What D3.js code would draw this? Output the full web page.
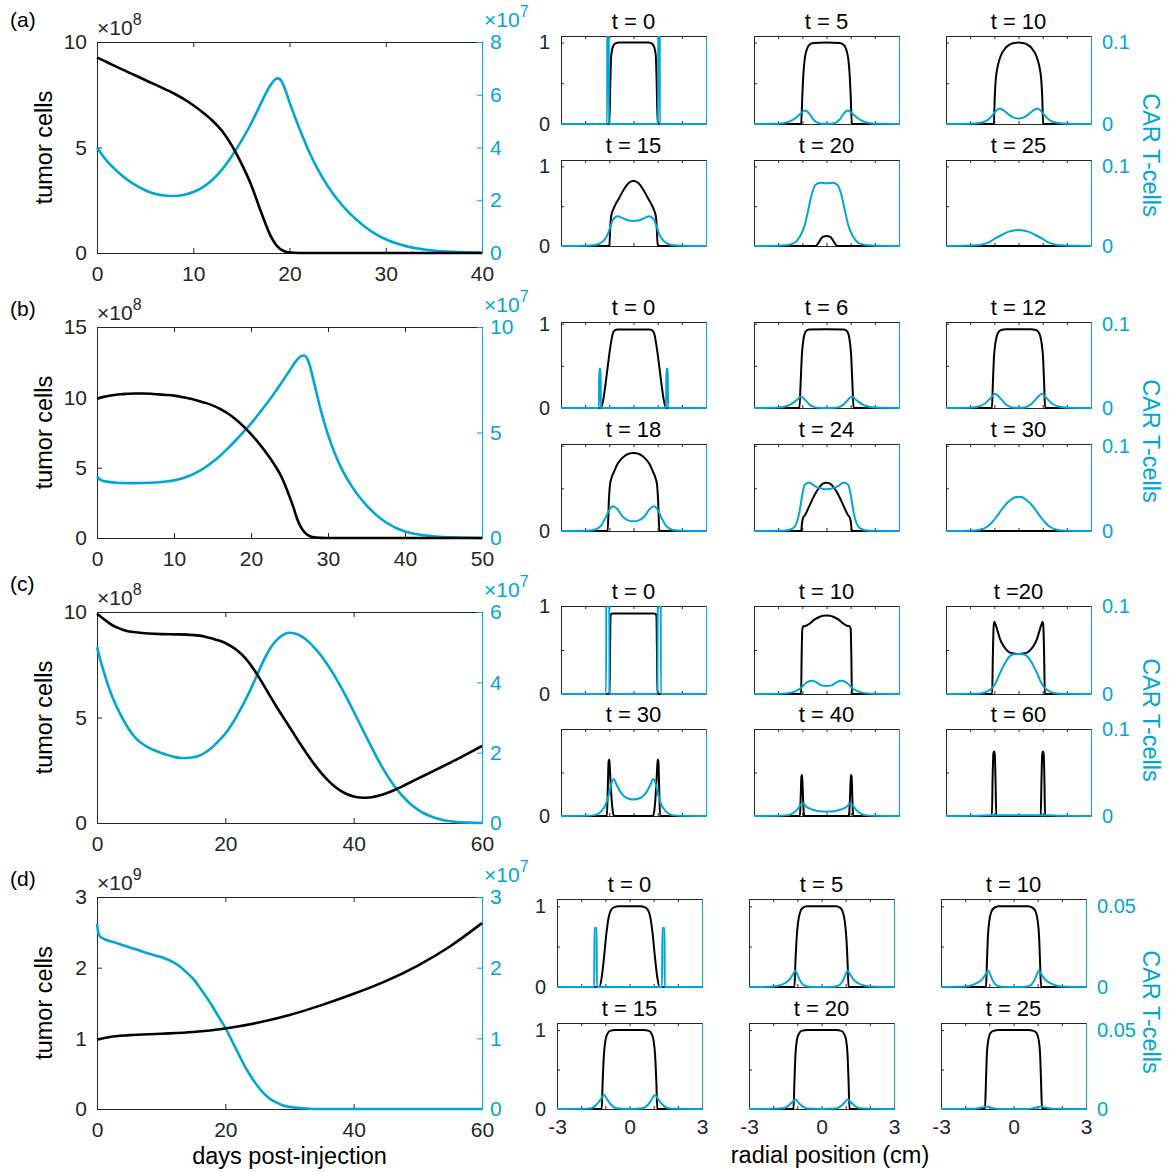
<!DOCTYPE html>
<html><head><meta charset="utf-8">
<script src="https://cdn.jsdelivr.net/npm/d3@7"></script>
<style>body{margin:0;background:#fff}svg{display:block}</style>
</head><body><svg id="c" width="1176" height="1172"></svg>
<script>
// ---------------- main time-course data ----------------
const xTicksA=[0,10,20,30,40], xTicksB=[0,10,20,30,40,50], xTicksC=[0,20,40,60], xTicksD=[0,20,40,60];
const yTicksLA=[0,5,10], yTicksLB=[0,5,10,15], yTicksLC=[0,5,10], yTicksLD=[0,1,2,3];
const yTicksRA=[0,2,4,6,8], yTicksRB=[0,5,10], yTicksRC=[0,2,4,6], yTicksRD=[0,1,2,3];

const tumorA=[[0,9.26],[1,9.05],[2,8.83],[3,8.62],[4,8.41],[5,8.2],[6,7.99],[7,7.78],[8,7.56],[9,7.3],[10,7.0],[11,6.66],[12,6.27],[13,5.78],[14,5.1],[15,4.25],[16,3.25],[17,2.0],[18,0.85],[18.5,0.45],[19,0.2],[19.5,0.07],[20,0.02],[21,0],[40,0]];
const carA=[[0,4.0],[1,3.5],[2,3.13],[3,2.82],[4,2.57],[5,2.38],[6,2.25],[7,2.18],[8,2.16],[9,2.2],[10,2.31],[11,2.5],[12,2.78],[13,3.17],[14,3.67],[15,4.25],[16,4.9],[17,5.65],[18,6.35],[18.5,6.58],[18.8,6.62],[19.2,6.5],[19.6,6.15],[20,5.72],[21,4.75],[22,3.87],[23,3.13],[24,2.52],[25,2.02],[26,1.6],[27,1.25],[28,0.95],[29,0.71],[30,0.52],[32,0.27],[34,0.13],[36,0.06],[38,0.03],[40,0.01]];

const tumorB=[[0,9.9],[1,10.05],[2,10.15],[3,10.22],[4,10.25],[5,10.27],[6,10.27],[7,10.25],[8,10.21],[9,10.17],[10,10.12],[11,10.03],[12,9.92],[13,9.78],[14,9.62],[15,9.43],[16,9.17],[17,8.85],[18,8.45],[19,7.95],[20,7.38],[21,6.75],[22,6.05],[23,5.25],[24,4.3],[25,2.95],[25.5,2.2],[26,1.35],[26.5,0.75],[27,0.38],[27.5,0.17],[28,0.07],[29,0.01],[30,0],[50,0]];
const carB=[[0,2.92],[0.3,2.8],[0.7,2.72],[1.5,2.66],[3,2.61],[5,2.6],[7,2.62],[9,2.68],[10,2.73],[11,2.82],[12,2.95],[13,3.12],[14,3.33],[15,3.6],[16,3.9],[17,4.25],[18,4.62],[19,5.02],[20,5.42],[21,5.88],[22,6.35],[23,6.85],[24,7.38],[25,7.93],[26,8.45],[26.5,8.62],[26.9,8.65],[27.3,8.5],[27.7,8.1],[28,7.65],[28.5,6.9],[29,6.15],[30,4.9],[31,3.9],[32,3.12],[33,2.5],[34,1.98],[35,1.55],[36,1.18],[37,0.88],[38,0.64],[39,0.45],[40,0.31],[42,0.15],[44,0.07],[46,0.03],[48,0.01],[50,0.0]];

const tumorC=[[0,9.92],[1,9.68],[2,9.45],[3,9.28],[4,9.16],[5,9.08],[6,9.04],[8,8.98],[10,8.95],[12,8.94],[14,8.93],[16,8.88],[17,8.82],[18,8.74],[19,8.65],[20,8.53],[21,8.36],[22,8.14],[23,7.85],[24,7.47],[25,7.02],[26,6.52],[27,6.0],[28,5.5],[29,5.02],[30,4.55],[31,4.07],[32,3.6],[33,3.15],[34,2.73],[35,2.35],[36,2.02],[37,1.74],[38,1.52],[39,1.36],[40,1.26],[41,1.21],[42,1.2],[43,1.23],[44,1.3],[45,1.4],[46,1.52],[47,1.65],[48,1.8],[50,2.1],[52,2.4],[54,2.7],[56,3.0],[58,3.32],[60,3.65]];
const carC=[[0,5.0],[0.5,4.65],[1,4.34],[1.5,4.04],[2,3.77],[3,3.33],[4,2.97],[5,2.66],[6,2.42],[7,2.26],[8,2.15],[9,2.06],[10,1.99],[11,1.93],[12,1.88],[13,1.85],[14,1.85],[15,1.87],[16,1.92],[17,2.02],[18,2.16],[19,2.34],[20,2.54],[21,2.8],[22,3.11],[23,3.45],[24,3.82],[25,4.23],[26,4.63],[27,4.97],[28,5.2],[29,5.35],[30,5.41],[31,5.38],[32,5.29],[33,5.15],[34,4.96],[35,4.74],[36,4.48],[37,4.19],[38,3.87],[39,3.53],[40,3.17],[41,2.8],[42,2.44],[43,2.08],[44,1.73],[45,1.42],[46,1.14],[47,0.9],[48,0.69],[49,0.52],[50,0.38],[51,0.27],[52,0.19],[53,0.13],[54,0.08],[55,0.05],[56,0.03],[58,0.01],[60,0.0]];

const tumorD=[[0,0.98],[2,1.02],[5,1.045],[10,1.065],[15,1.09],[20,1.14],[25,1.22],[30,1.33],[35,1.47],[40,1.63],[45,1.81],[50,2.03],[55,2.3],[60,2.63]];
const carD=[[0,2.62],[0.15,2.52],[0.4,2.45],[1,2.41],[3,2.35],[5,2.29],[8,2.2],[10,2.15],[12,2.07],[13,2.01],[14,1.93],[15,1.84],[16,1.72],[17,1.59],[18,1.45],[19,1.3],[20,1.15],[21,0.97],[22,0.79],[23,0.61],[24,0.46],[25,0.33],[26,0.22],[27,0.14],[28,0.09],[29,0.05],[30,0.03],[32,0.01],[34,0.0],[60,0.0]];

// ---------------- spatial profiles (radial position, value) ----------------
const titlesA=["t = 0","t = 5","t = 10","t = 15","t = 20","t = 25"];
const titlesB=["t = 0","t = 6","t = 12","t = 18","t = 24","t = 30"];
const titlesC=["t = 0","t = 10","t =20","t = 30","t = 40","t = 60"];
const titlesD=["t = 0","t = 5","t = 10","t = 15","t = 20","t = 25"];

const tumorProfA=[
[[-3,0],[-1.0,0],[-0.96,0.5],[-0.92,0.85],[-0.85,0.95],[-0.75,0.99],[-0.6,1.0],[0.6,1.0],[0.75,0.99],[0.85,0.95],[0.92,0.85],[0.96,0.5],[1.0,0],[3,0]],
[[-3,0],[-1.05,0],[-1.0,0.35],[-0.96,0.6],[-0.9,0.8],[-0.82,0.91],[-0.72,0.97],[-0.55,0.995],[0,1.0],[0.55,0.995],[0.72,0.97],[0.82,0.91],[0.9,0.8],[0.96,0.6],[1.0,0.35],[1.05,0],[3,0]],
[[-3,0],[-1.02,0],[-0.98,0.35],[-0.94,0.55],[-0.88,0.68],[-0.8,0.78],[-0.7,0.86],[-0.55,0.93],[-0.37,0.975],[-0.18,0.995],[0,1.0],[0.18,0.995],[0.37,0.975],[0.55,0.93],[0.7,0.86],[0.8,0.78],[0.88,0.68],[0.94,0.55],[0.98,0.35],[1.02,0],[3,0]],
[[-3,0],[-1.0,0],[-0.96,0.25],[-0.92,0.38],[-0.85,0.45],[-0.75,0.52],[-0.6,0.6],[-0.4,0.71],[-0.2,0.79],[0,0.82],[0.2,0.79],[0.4,0.71],[0.6,0.6],[0.75,0.52],[0.85,0.45],[0.92,0.38],[0.96,0.25],[1.0,0],[3,0]],
[[-3,0],[-0.45,0],[-0.35,0.03],[-0.25,0.08],[-0.15,0.115],[0,0.125],[0.15,0.115],[0.25,0.08],[0.35,0.03],[0.45,0],[3,0]],
[[-3,0],[3,0]]];
const carProfA=[
[[-3,0],[-1.09,0],[-1.08,0.3],[-1.03,0.3],[-1.02,0],[1.02,0],[1.03,0.3],[1.08,0.3],[1.09,0],[3,0]],
[[-3,0],[-2.2,0.0002],[-1.8,0.001],[-1.5,0.0035],[-1.25,0.008],[-1.05,0.0135],[-0.88,0.0165],[-0.72,0.013],[-0.56,0.006],[-0.4,0.002],[-0.2,0.0004],[0,0.0002],[0.2,0.0004],[0.4,0.002],[0.56,0.006],[0.72,0.013],[0.88,0.0165],[1.05,0.0135],[1.25,0.008],[1.5,0.0035],[1.8,0.001],[2.2,0.0002],[3,0]],
[[-3,0],[-2.0,0.0003],[-1.6,0.0015],[-1.3,0.0045],[-1.1,0.01],[-0.95,0.0155],[-0.78,0.019],[-0.6,0.0165],[-0.4,0.0115],[-0.2,0.0078],[0,0.0068],[0.2,0.0078],[0.4,0.0115],[0.6,0.0165],[0.78,0.019],[0.95,0.0155],[1.1,0.01],[1.3,0.0045],[1.6,0.0015],[2.0,0.0003],[3,0]],
[[-3,0],[-2.0,0.0003],[-1.6,0.0012],[-1.4,0.003],[-1.2,0.008],[-1.05,0.016],[-0.95,0.025],[-0.85,0.033],[-0.65,0.0375],[-0.45,0.035],[-0.2,0.032],[0,0.0315],[0.2,0.032],[0.45,0.035],[0.65,0.0375],[0.85,0.033],[0.95,0.025],[1.05,0.016],[1.2,0.008],[1.4,0.003],[1.6,0.0012],[2.0,0.0003],[3,0]],
[[-3,0],[-2.0,0.0002],[-1.75,0.0008],[-1.5,0.002],[-1.3,0.0045],[-1.1,0.012],[-0.9,0.026],[-0.75,0.046],[-0.6,0.066],[-0.45,0.077],[-0.25,0.0795],[0,0.0785],[0.25,0.0795],[0.45,0.077],[0.6,0.066],[0.75,0.046],[0.9,0.026],[1.1,0.012],[1.3,0.0045],[1.5,0.002],[1.75,0.0008],[2.0,0.0002],[3,0]],
[[-3,0],[-2.2,0.0002],[-1.8,0.0008],[-1.5,0.002],[-1.25,0.0042],[-1.0,0.009],[-0.72,0.0135],[-0.4,0.018],[-0.2,0.0195],[0,0.02],[0.2,0.0195],[0.4,0.018],[0.72,0.0135],[1.0,0.009],[1.25,0.0042],[1.5,0.002],[1.8,0.0008],[2.2,0.0002],[3,0]]];

const tumorProfB=[
[[-3,0],[-1.35,0],[-1.25,0.1],[-1.15,0.3],[-1.05,0.53],[-0.95,0.74],[-0.87,0.87],[-0.78,0.92],[-0.65,0.93],[0.65,0.93],[0.78,0.92],[0.87,0.87],[0.95,0.74],[1.05,0.53],[1.15,0.3],[1.25,0.1],[1.35,0],[3,0]],
[[-3,0],[-1.12,0],[-1.07,0.3],[-1.02,0.62],[-0.95,0.82],[-0.85,0.91],[-0.72,0.93],[0,0.935],[0.72,0.93],[0.85,0.91],[0.95,0.82],[1.02,0.62],[1.07,0.3],[1.12,0],[3,0]],
[[-3,0],[-1.1,0],[-1.06,0.3],[-1.02,0.58],[-0.95,0.78],[-0.85,0.89],[-0.72,0.925],[-0.5,0.935],[0.5,0.935],[0.72,0.925],[0.85,0.89],[0.95,0.78],[1.02,0.58],[1.06,0.3],[1.1,0],[3,0]],
[[-3,0],[-1.07,0],[-1.02,0.35],[-0.97,0.55],[-0.9,0.63],[-0.8,0.7],[-0.65,0.79],[-0.45,0.86],[-0.25,0.9],[0,0.915],[0.25,0.9],[0.45,0.86],[0.65,0.79],[0.8,0.7],[0.9,0.63],[0.97,0.55],[1.02,0.35],[1.07,0],[3,0]],
[[-3,0],[-1.05,0],[-1.01,0.1],[-0.96,0.16],[-0.88,0.19],[-0.78,0.25],[-0.65,0.33],[-0.5,0.42],[-0.3,0.51],[-0.15,0.555],[0,0.567],[0.15,0.555],[0.3,0.51],[0.5,0.42],[0.65,0.33],[0.78,0.25],[0.88,0.19],[0.96,0.16],[1.01,0.1],[1.05,0],[3,0]],
[[-3,0],[3,0]]];
const carProfB=[
[[-3,0],[-1.43,0],[-1.42,0.0465],[-1.36,0.0465],[-1.35,0],[1.35,0],[1.36,0.0465],[1.42,0.0465],[1.43,0],[3,0]],
[[-3,0],[-2.2,0.0002],[-1.8,0.0012],[-1.5,0.004],[-1.25,0.009],[-1.05,0.0133],[-0.88,0.0095],[-0.7,0.004],[-0.5,0.001],[-0.3,0.0002],[0,0],[0.3,0.0002],[0.5,0.001],[0.7,0.004],[0.88,0.0095],[1.05,0.0133],[1.25,0.009],[1.5,0.004],[1.8,0.0012],[2.2,0.0002],[3,0]],
[[-3,0],[-2.1,0.0003],[-1.7,0.0015],[-1.4,0.005],[-1.15,0.012],[-0.97,0.0168],[-0.78,0.0125],[-0.55,0.005],[-0.3,0.001],[0,0.0003],[0.3,0.001],[0.55,0.005],[0.78,0.0125],[0.97,0.0168],[1.15,0.012],[1.4,0.005],[1.7,0.0015],[2.1,0.0003],[3,0]],
[[-3,0],[-2.0,0.0002],[-1.6,0.0015],[-1.35,0.006],[-1.15,0.016],[-1.0,0.025],[-0.85,0.029],[-0.68,0.026],[-0.45,0.017],[-0.22,0.0125],[0,0.0114],[0.22,0.0125],[0.45,0.017],[0.68,0.026],[0.85,0.029],[1.0,0.025],[1.15,0.016],[1.35,0.006],[1.6,0.0015],[2.0,0.0002],[3,0]],
[[-3,0],[-2.0,0.0002],[-1.6,0.001],[-1.4,0.003],[-1.25,0.0085],[-1.12,0.022],[-1.0,0.043],[-0.9,0.054],[-0.72,0.057],[-0.5,0.053],[-0.25,0.05],[0,0.049],[0.25,0.05],[0.5,0.053],[0.72,0.057],[0.9,0.054],[1.0,0.043],[1.12,0.022],[1.25,0.0085],[1.4,0.003],[1.6,0.001],[2.0,0.0002],[3,0]],
[[-3,0],[-2.0,0.0003],[-1.6,0.0015],[-1.3,0.005],[-1.1,0.01],[-0.9,0.017],[-0.7,0.025],[-0.5,0.032],[-0.3,0.037],[-0.15,0.0395],[0,0.0402],[0.15,0.0395],[0.3,0.037],[0.5,0.032],[0.7,0.025],[0.9,0.017],[1.1,0.01],[1.3,0.005],[1.6,0.0015],[2.0,0.0003],[3,0]]];

const tumorProfC=[
[[-3,0],[-0.99,0],[-0.97,0.5],[-0.95,0.88],[-0.92,0.91],[-0.85,0.915],[0.85,0.915],[0.92,0.91],[0.95,0.88],[0.97,0.5],[0.99,0],[3,0]],
[[-3,0],[-1.05,0],[-1.03,0.4],[-1.0,0.74],[-0.95,0.77],[-0.85,0.775],[-0.7,0.8],[-0.5,0.845],[-0.3,0.875],[-0.15,0.89],[0,0.893],[0.15,0.89],[0.3,0.875],[0.5,0.845],[0.7,0.8],[0.85,0.775],[0.95,0.77],[1.0,0.74],[1.03,0.4],[1.05,0],[3,0]],
[[-3,0],[-1.09,0],[-1.06,0.45],[-1.03,0.76],[-1.0,0.82],[-0.95,0.79],[-0.87,0.72],[-0.77,0.63],[-0.62,0.545],[-0.45,0.49],[-0.25,0.462],[0,0.455],[0.25,0.462],[0.45,0.49],[0.62,0.545],[0.77,0.63],[0.87,0.72],[0.95,0.79],[1.0,0.82],[1.03,0.76],[1.06,0.45],[1.09,0],[3,0]],
[[-3,0],[-1.1,0],[-1.06,0.35],[-1.03,0.63],[-1.0,0.65],[-0.97,0.5],[-0.92,0.25],[-0.86,0.06],[-0.8,0],[0.8,0],[0.86,0.06],[0.92,0.25],[0.97,0.5],[1.0,0.65],[1.03,0.63],[1.06,0.35],[1.1,0],[3,0]],
[[-3,0],[-1.1,0],[-1.07,0.2],[-1.04,0.45],[-1.02,0.47],[-1.0,0.42],[-0.97,0.2],[-0.94,0.03],[-0.92,0],[0.92,0],[0.94,0.03],[0.97,0.2],[1.0,0.42],[1.02,0.47],[1.04,0.45],[1.07,0.2],[1.1,0],[3,0]],
[[-3,0],[-1.1,0],[-1.07,0.45],[-1.04,0.72],[-1.01,0.74],[-0.98,0.7],[-0.95,0.4],[-0.92,0],[0.92,0],[0.95,0.4],[0.98,0.7],[1.01,0.74],[1.04,0.72],[1.07,0.45],[1.1,0],[3,0]]];
const carProfC=[
[[-3,0],[-1.13,0],[-1.12,0.3],[-1.01,0.3],[-1.0,0],[1.0,0],[1.01,0.3],[1.12,0.3],[1.13,0],[3,0]],
[[-3,0],[-2.0,0.0002],[-1.6,0.001],[-1.3,0.003],[-1.1,0.006],[-0.95,0.01],[-0.8,0.0135],[-0.6,0.015],[-0.4,0.013],[-0.2,0.0098],[0,0.0092],[0.2,0.0098],[0.4,0.013],[0.6,0.015],[0.8,0.0135],[0.95,0.01],[1.1,0.006],[1.3,0.003],[1.6,0.001],[2.0,0.0002],[3,0]],
[[-3,0],[-2.0,0.0002],[-1.6,0.0006],[-1.3,0.0027],[-1.05,0.008],[-0.9,0.015],[-0.77,0.0235],[-0.6,0.033],[-0.45,0.04],[-0.25,0.0448],[0,0.0455],[0.25,0.0448],[0.45,0.04],[0.6,0.033],[0.77,0.0235],[0.9,0.015],[1.05,0.008],[1.3,0.0027],[1.6,0.0006],[2.0,0.0002],[3,0]],
[[-3,0],[-2.0,0.0002],[-1.6,0.001],[-1.35,0.005],[-1.15,0.013],[-1.0,0.027],[-0.9,0.039],[-0.82,0.0425],[-0.7,0.036],[-0.55,0.028],[-0.3,0.021],[0,0.019],[0.3,0.021],[0.55,0.028],[0.7,0.036],[0.82,0.0425],[0.9,0.039],[1.0,0.027],[1.15,0.013],[1.35,0.005],[1.6,0.001],[2.0,0.0002],[3,0]],
[[-3,0],[-2.0,0.0002],[-1.6,0.001],[-1.4,0.003],[-1.2,0.008],[-1.05,0.0135],[-0.97,0.0145],[-0.85,0.011],[-0.6,0.0075],[-0.3,0.0055],[0,0.005],[0.3,0.0055],[0.6,0.0075],[0.85,0.011],[0.97,0.0145],[1.05,0.0135],[1.2,0.008],[1.4,0.003],[1.6,0.001],[2.0,0.0002],[3,0]],
[[-3,0],[-1.8,0.0002],[-1.2,0.0008],[-0.6,0.001],[0,0.001],[0.6,0.001],[1.2,0.0008],[1.8,0.0002],[3,0]]];

const tumorProfD=[
[[-3,0],[-1.25,0],[-1.15,0.12],[-1.05,0.38],[-0.95,0.68],[-0.85,0.88],[-0.75,0.96],[-0.62,0.99],[-0.45,1.0],[0.45,1.0],[0.62,0.99],[0.75,0.96],[0.85,0.88],[0.95,0.68],[1.05,0.38],[1.15,0.12],[1.25,0],[3,0]],
[[-3,0],[-1.12,0],[-1.08,0.3],[-1.03,0.6],[-0.97,0.8],[-0.88,0.93],[-0.78,0.98],[-0.6,1.0],[0.6,1.0],[0.78,0.98],[0.88,0.93],[0.97,0.8],[1.03,0.6],[1.08,0.3],[1.12,0],[3,0]],
[[-3,0],[-1.14,0],[-1.1,0.3],[-1.06,0.62],[-1.0,0.82],[-0.92,0.93],[-0.8,0.98],[-0.6,1.0],[0.6,1.0],[0.8,0.98],[0.92,0.93],[1.0,0.82],[1.06,0.62],[1.1,0.3],[1.14,0],[3,0]],
[[-3,0],[-1.15,0],[-1.11,0.35],[-1.06,0.68],[-1.0,0.86],[-0.92,0.95],[-0.8,0.99],[-0.6,1.0],[0.6,1.0],[0.8,0.99],[0.92,0.95],[1.0,0.86],[1.06,0.68],[1.11,0.35],[1.15,0],[3,0]],
[[-3,0],[-1.16,0],[-1.12,0.35],[-1.08,0.68],[-1.02,0.87],[-0.94,0.95],[-0.82,0.99],[-0.6,1.0],[0.6,1.0],[0.82,0.99],[0.94,0.95],[1.02,0.87],[1.08,0.68],[1.12,0.35],[1.16,0],[3,0]],
[[-3,0],[-1.18,0],[-1.14,0.35],[-1.1,0.7],[-1.04,0.88],[-0.96,0.96],[-0.83,0.99],[-0.6,1.0],[0.6,1.0],[0.83,0.99],[0.96,0.96],[1.04,0.88],[1.1,0.7],[1.14,0.35],[1.18,0],[3,0]]];
const carProfD=[
[[-3,0],[-1.46,0],[-1.45,0.0365],[-1.36,0.0365],[-1.35,0],[1.35,0],[1.36,0.0365],[1.45,0.0365],[1.46,0],[3,0]],
[[-3,0],[-2.2,0.0001],[-1.8,0.0008],[-1.5,0.0025],[-1.3,0.005],[-1.17,0.0082],[-1.08,0.0101],[-0.99,0.0075],[-0.87,0.0035],[-0.72,0.001],[-0.5,0.0002],[0,0],[0.5,0.0002],[0.72,0.001],[0.87,0.0035],[0.99,0.0075],[1.08,0.0101],[1.17,0.0082],[1.3,0.005],[1.5,0.0025],[1.8,0.0008],[2.2,0.0001],[3,0]],
[[-3,0],[-2.2,0.0001],[-1.8,0.0008],[-1.5,0.0025],[-1.28,0.005],[-1.14,0.0083],[-1.05,0.0102],[-0.96,0.0075],[-0.84,0.0035],[-0.7,0.001],[-0.5,0.0002],[0,0],[0.5,0.0002],[0.7,0.001],[0.84,0.0035],[0.96,0.0075],[1.05,0.0102],[1.14,0.0083],[1.28,0.005],[1.5,0.0025],[1.8,0.0008],[2.2,0.0001],[3,0]],
[[-3,0],[-2.0,0.0001],[-1.6,0.0005],[-1.35,0.003],[-1.2,0.006],[-1.05,0.0089],[-0.92,0.006],[-0.78,0.003],[-0.55,0.0005],[0,0],[0.55,0.0005],[0.78,0.003],[0.92,0.006],[1.05,0.0089],[1.2,0.006],[1.35,0.003],[1.6,0.0005],[2.0,0.0001],[3,0]],
[[-3,0],[-2.0,0.0001],[-1.6,0.0004],[-1.38,0.002],[-1.22,0.0042],[-1.08,0.006],[-0.95,0.004],[-0.8,0.0018],[-0.6,0.0003],[0,0],[0.6,0.0003],[0.8,0.0018],[0.95,0.004],[1.08,0.006],[1.22,0.0042],[1.38,0.002],[1.6,0.0004],[2.0,0.0001],[3,0]],
[[-3,0],[-1.8,0.0001],[-1.45,0.0005],[-1.25,0.0012],[-1.12,0.0016],[-0.98,0.0011],[-0.8,0.0004],[-0.5,0],[0.5,0],[0.8,0.0004],[0.98,0.0011],[1.12,0.0016],[1.25,0.0012],[1.45,0.0005],[1.8,0.0001],[3,0]]];

// ---------------- drawing ----------------
const CY="#00a6d6", AX="#262626", FONT='"Liberation Sans", Arial, Helvetica, sans-serif';
const svg=d3.select("#c");
svg.append("rect").attr("width",1176).attr("height",1172).attr("fill","#fff");
const lineGen=(x,y)=>d3.line().x(d=>x(d[0])).y(d=>y(d[1])).curve(d3.curveMonotoneX);
function styleAxis(sel,color,fs){
  sel.attr("font-size",fs).attr("font-family",FONT);
  sel.select(".domain").attr("stroke",color).attr("stroke-width",1);
  sel.selectAll(".tick line").attr("stroke",color).attr("stroke-width",1);
  sel.selectAll(".tick text").attr("fill",color);
}
let clipId=0;

function mainPlot(cfg){
  const L=97,R=482;
  const x=d3.scaleLinear([0,cfg.xMax],[L,R]);
  const yL=d3.scaleLinear(cfg.yL,[cfg.bot,cfg.top]);
  const yR=d3.scaleLinear(cfg.yR,[cfg.bot,cfg.top]);
  const g=svg.append("g");
  g.append("g").attr("transform",`translate(0,${cfg.top})`)
    .call(d3.axisTop(x).tickValues(cfg.xTicks).tickSizeInner(-5).tickSizeOuter(0).tickFormat(""))
    .call(styleAxis,AX,21);
  g.append("g").attr("transform",`translate(0,${cfg.bot})`)
    .call(d3.axisBottom(x).tickValues(cfg.xTicks).tickSizeInner(-5).tickSizeOuter(0).tickPadding(13).tickFormat(d3.format("d")))
    .call(styleAxis,AX,21);
  g.append("g").attr("transform",`translate(${L},0)`)
    .call(d3.axisLeft(yL).tickValues(cfg.yLT).tickSizeInner(-5).tickSizeOuter(0).tickPadding(10).tickFormat(d3.format("d")))
    .call(styleAxis,AX,21);
  g.append("g").attr("transform",`translate(${R},0)`)
    .call(d3.axisRight(yR).tickValues(cfg.yRT).tickSizeInner(-5).tickSizeOuter(0).tickPadding(8).tickFormat(d3.format("d")))
    .call(styleAxis,CY,21);
  // multipliers
  const mL=g.append("text").attr("x",L).attr("y",cfg.top-7).attr("font-family",FONT).attr("font-size",21).attr("fill",AX);
  mL.append("tspan").text("\u00d710");
  mL.append("tspan").attr("font-size",16).attr("dy",-10).text(cfg.expL);
  const mR=g.append("text").attr("x",R+2).attr("y",cfg.top-15).attr("font-family",FONT).attr("font-size",21).attr("fill",CY);
  mR.append("tspan").text("\u00d710");
  mR.append("tspan").attr("font-size",16).attr("dy",-10).text(cfg.expR);
  // label
  g.append("text").attr("transform",`translate(52,${(cfg.top+cfg.bot)/2}) rotate(-90)`)
    .attr("text-anchor","middle").attr("font-family",FONT).attr("font-size",23.5).attr("fill","#000").text("tumor cells");
  g.append("text").attr("x",10).attr("y",cfg.labY).attr("font-family",FONT).attr("font-size",21).attr("fill","#000").text(cfg.key);
  // lines
  g.append("path").datum(cfg.car).attr("fill","none").attr("stroke",CY).attr("stroke-width",2.6).attr("d",lineGen(x,yR));
  g.append("path").datum(cfg.tumor).attr("fill","none").attr("stroke","#000").attr("stroke-width",2.6).attr("d",lineGen(x,yL));
}

function smallPlot(o){
  const x=d3.scaleLinear([-3,3],[o.l,o.r]);
  const yB=d3.scaleLinear([0,o.ylimB],[o.b,o.t]);
  const yC=d3.scaleLinear([0,o.ylimC],[o.b,o.t]);
  const g=svg.append("g");
  const id="clip"+(clipId++);
  g.append("clipPath").attr("id",id).append("rect").attr("x",o.l-1).attr("y",o.t).attr("width",o.r-o.l+2).attr("height",o.b-o.t+2);
  const xt=[-3,-2,-1,0,1,2,3];
  g.append("g").attr("transform",`translate(0,${o.t})`)
    .call(d3.axisTop(x).tickValues(xt).tickSizeInner(-3).tickSizeOuter(0).tickFormat(""))
    .call(styleAxis,AX,21);
  g.append("g").attr("transform",`translate(0,${o.b})`)
    .call(d3.axisBottom(x).tickValues(xt).tickSizeInner(-3).tickSizeOuter(0).tickPadding(10)
      .tickFormat(d=>o.xLab&&(d===-3||d===0||d===3)?(d<0?"-3":String(d)):""))
    .call(styleAxis,AX,21);
  g.append("g").attr("transform",`translate(${o.l},0)`)
    .call(d3.axisLeft(yB).tickValues([0,0.5,1].filter(v=>v<=o.ylimB)).tickSizeInner(-3).tickSizeOuter(0).tickPadding(11)
      .tickFormat(d=>o.leftLab.includes(d)?String(d):""))
    .call(styleAxis,AX,20);
  g.append("g").attr("transform",`translate(${o.r},0)`)
    .call(d3.axisRight(yC).tickValues([0,o.cTick]).tickSizeInner(0).tickSizeOuter(0).tickPadding(11)
      .tickFormat(d=>o.rightLab?(d===0?"0":String(d)):""))
    .call(styleAxis,CY,20);
  g.append("text").attr("x",(o.l+o.r)/2).attr("y",o.t-7).attr("text-anchor","middle")
    .attr("font-family",FONT).attr("font-size",22).attr("fill","#000").text(o.title);
  const lg=g.append("g").attr("clip-path",`url(#${id})`);
  lg.append("path").datum(o.black).attr("fill","none").attr("stroke","#000").attr("stroke-width",2).attr("d",lineGen(x,yB));
  lg.append("path").datum(o.cyan).attr("fill","none").attr("stroke",CY).attr("stroke-width",2).attr("d",lineGen(x,yC));
}

const mainCfgs=[
 {key:"(a)",labY:27,top:42,bot:253,xMax:40,xTicks:xTicksA,yL:[0,10],yLT:yTicksLA,yR:[0,8],yRT:yTicksRA,expL:"8",expR:"7",tumor:tumorA,car:carA},
 {key:"(b)",labY:316,top:327,bot:538,xMax:50,xTicks:xTicksB,yL:[0,15],yLT:yTicksLB,yR:[0,10],yRT:yTicksRB,expL:"8",expR:"7",tumor:tumorB,car:carB},
 {key:"(c)",labY:591,top:612,bot:823,xMax:60,xTicks:xTicksC,yL:[0,10],yLT:yTicksLC,yR:[0,6],yRT:yTicksRC,expL:"8",expR:"7",tumor:tumorC,car:carC},
 {key:"(d)",labY:886,top:897,bot:1109,xMax:60,xTicks:xTicksD,yL:[0,3],yLT:yTicksLD,yR:[0,3],yRT:yTicksRD,expL:"9",expR:"7",tumor:tumorD,car:carD}
];
mainCfgs.forEach(mainPlot);

const groups=[
 {cols:[[561,706],[754,899],[946,1091]],rows:[[36,124],[160,246]],ylimB:1.08,ylimC:0.108,cTick:0.1,leftRows:[[1,0],[1,0]],titles:titlesA,black:tumorProfA,cyan:carProfA,carY:155,xLab:false},
 {cols:[[561,706],[754,899],[946,1091]],rows:[[322,408],[444,531]],ylimB:1.02,ylimC:0.102,cTick:0.1,leftRows:[[1,0],[0]],titles:titlesB,black:tumorProfB,cyan:carProfB,carY:441,xLab:false},
 {cols:[[561,706],[754,899],[946,1091]],rows:[[606,694],[729,816]],ylimB:1.0,ylimC:0.1,cTick:0.1,leftRows:[[1,0],[0]],titles:titlesC,black:tumorProfC,cyan:carProfC,carY:720,xLab:false},
 {cols:[[557,702],[749,894],[941,1086]],rows:[[899,987],[1023,1109]],ylimB:1.09,ylimC:0.0545,cTick:0.05,leftRows:[[1,0],[1,0]],titles:titlesD,black:tumorProfD,cyan:carProfD,carY:1012,xLab:true}
];
groups.forEach(gr=>{
  for(let r=0;r<2;r++) for(let c=0;c<3;c++){
    const k=r*3+c;
    smallPlot({l:gr.cols[c][0],r:gr.cols[c][1],t:gr.rows[r][0],b:gr.rows[r][1],
      ylimB:gr.ylimB,ylimC:gr.ylimC,cTick:gr.cTick,
      leftLab:c===0?gr.leftRows[r]:[],rightLab:c===2,xLab:gr.xLab&&r===1,
      title:gr.titles[k],black:gr.black[k],cyan:gr.cyan[k]});
  }
  svg.append("text").attr("transform",`translate(1143,${gr.carY}) rotate(90)`).attr("text-anchor","middle")
    .attr("font-family",FONT).attr("font-size",23.5).attr("fill",CY).text("CAR T-cells");
});

svg.append("text").attr("x",289.5).attr("y",1164).attr("text-anchor","middle").attr("font-family",FONT).attr("font-size",23.5).attr("fill","#000").text("days post-injection");
svg.append("text").attr("x",830).attr("y",1163).attr("text-anchor","middle").attr("font-family",FONT).attr("font-size",23.5).attr("fill","#000").text("radial position (cm)");
</script></body></html>
